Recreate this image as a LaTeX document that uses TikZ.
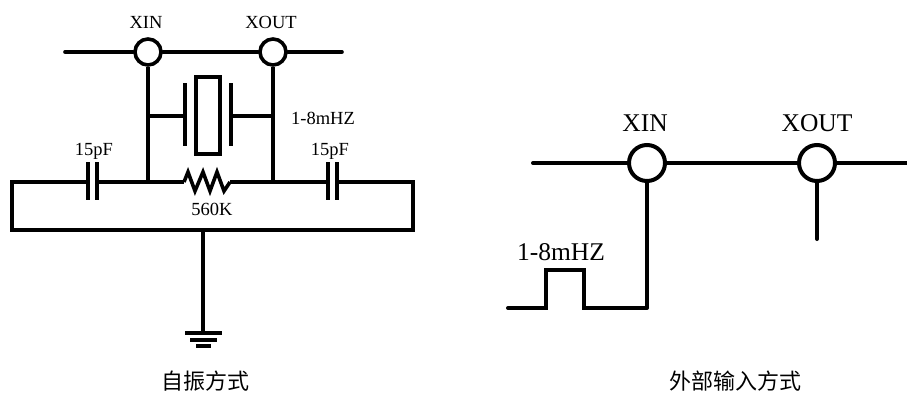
\documentclass[tikz,border=0pt]{standalone}
\usepackage{fontspec}
\setmainfont{Liberation Serif}
\newfontfamily\cjk{Noto Sans CJK SC}
\begin{document}
\begin{tikzpicture}[x=1pt,y=-1pt,
  wireL/.style={line width=3.6pt,line cap=round,line join=miter},
  wireR/.style={line width=4pt,line cap=round,line join=miter},
  pinL/.style={circle,draw,line width=3.6pt,fill=white,inner sep=0pt,minimum size=26pt},
  pinR/.style={circle,draw,line width=4pt,fill=white,inner sep=0pt,minimum size=36pt},
  lblL/.style={inner sep=0pt,font=\fontsize{18.5}{20}\selectfont},
  lblR/.style={inner sep=0pt,font=\fontsize{25.5}{28}\selectfont},
  lblC/.style={inner sep=0pt,font=\cjk\fontsize{22}{24}\selectfont}]
\useasboundingbox (0,0) rectangle (907,394);
% ---------------- left circuit ----------------
\coordinate (tl) at (65,52);
\coordinate (tr) at (342,52);
\node[pinL] (xin) at (148,52) {};
\node[pinL] (xout) at (273,52) {};
\node[lblL] (lxin) at (146,22) {XIN};
\node[lblL] (lxout) at (271,22) {XOUT};
\draw[wireL] (tl) -- (xin.west);
\draw[wireL] (xin.east) -- (xout.west);
\draw[wireL] (xout.east) -- (tr);
\coordinate (bl) at (148,182);
\coordinate (br) at (273,182);
\draw[wireL,line cap=butt] (xin.south) -- (bl);
\draw[wireL,line cap=butt] (xout.south) -- (br);
% crystal
\node[draw,line width=3.6pt,inner sep=0pt,minimum width=24pt,minimum height=77pt] (xtal) at (208,115.5) {};
\coordinate (pl1) at (185,83); \coordinate (pl2) at (185,146);
\coordinate (pr1) at (231,83); \coordinate (pr2) at (231,146);
\draw[wireL,line cap=butt] (pl1) -- (pl2);
\draw[wireL,line cap=butt] (pr1) -- (pr2);
\coordinate (ll) at (148,116); \coordinate (lp) at (185,116);
\coordinate (rl) at (273,116); \coordinate (rp) at (231,116);
\draw[wireL,line cap=butt] (ll) -- (lp);
\draw[wireL,line cap=butt] (rl) -- (rp);
\node[lblL] (lfreq) at (323,118) {1-8mHZ};
% capacitors
\coordinate (c1a) at (88,182); \coordinate (c1b) at (97,182);
\coordinate (c2a) at (328,182); \coordinate (c2b) at (337,182);
\draw[wireL,line cap=butt] (88,162) -- (88,200);
\draw[wireL,line cap=butt] (97,162) -- (97,200);
\draw[wireL,line cap=butt] (328,162) -- (328,200);
\draw[wireL,line cap=butt] (337,162) -- (337,200);
\node[lblL] (lc1) at (94,151) {15pF};
\node[lblL] (lc2) at (330,151) {15pF};
% resistor
\coordinate (ra) at (184,182); \coordinate (rb) at (230,182);
\draw[wireL,line cap=butt] (ra) -- (188,172) -- (195,191) -- (203,172) -- (210,191) -- (217,172) -- (224,191) -- (rb);
\node[lblL] (lr) at (212,209) {560K};
% bottom loop
\coordinate (gtop) at (203,230);
\draw[wireL,line cap=butt] (c1b) -- (bl) -- (ra);
\draw[wireL,line cap=butt] (rb) -- (br) -- (c2a);
\draw[wireL,line cap=butt,line join=miter] (c2b) -- (413,182) -- (413,230) -- (12,230) -- (12,182) -- (c1a);
% ground
\coordinate (gnd) at (203,333);
\draw[wireL,line cap=butt] (gtop) -- (gnd);
\draw[wireL,line cap=butt] (185,333) -- (222,333);
\draw[wireL,line cap=butt] (190,340) -- (217,340);
\draw[wireL,line cap=butt] (196,346) -- (211,346);
\node[lblC] (cap1) at (205,381) {自振方式};
% ---------------- right circuit ----------------
\coordinate (rtl) at (533,163);
\coordinate (rtr) at (907,163);
\node[pinR] (rxin) at (647,163) {};
\node[pinR] (rxout) at (817,163) {};
\node[lblR] (lrxin) at (645,123) {XIN};
\node[lblR] (lrxout) at (817,123) {XOUT};
\draw[wireR] (rtl) -- (rxin.west);
\draw[wireR] (rxin.east) -- (rxout.west);
\draw[wireR,line cap=butt] (rxout.east) -- (rtr);
\coordinate (rin) at (647,308);
\coordinate (rout) at (817,239);
\coordinate (pstart) at (508,308);
\draw[wireR,line cap=butt] (rxin.south) -- (rin);
\draw[wireR] (rxout.south) -- (rout);
\draw[wireR] (pstart) -- (546,308) -- (546,270) -- (584,270) -- (584,308) -- (rin);
\node[lblR] (lrf) at (561,252) {1-8mHZ};
\node[lblC] (cap2) at (735,381) {外部输入方式};
\end{tikzpicture}
\end{document}
